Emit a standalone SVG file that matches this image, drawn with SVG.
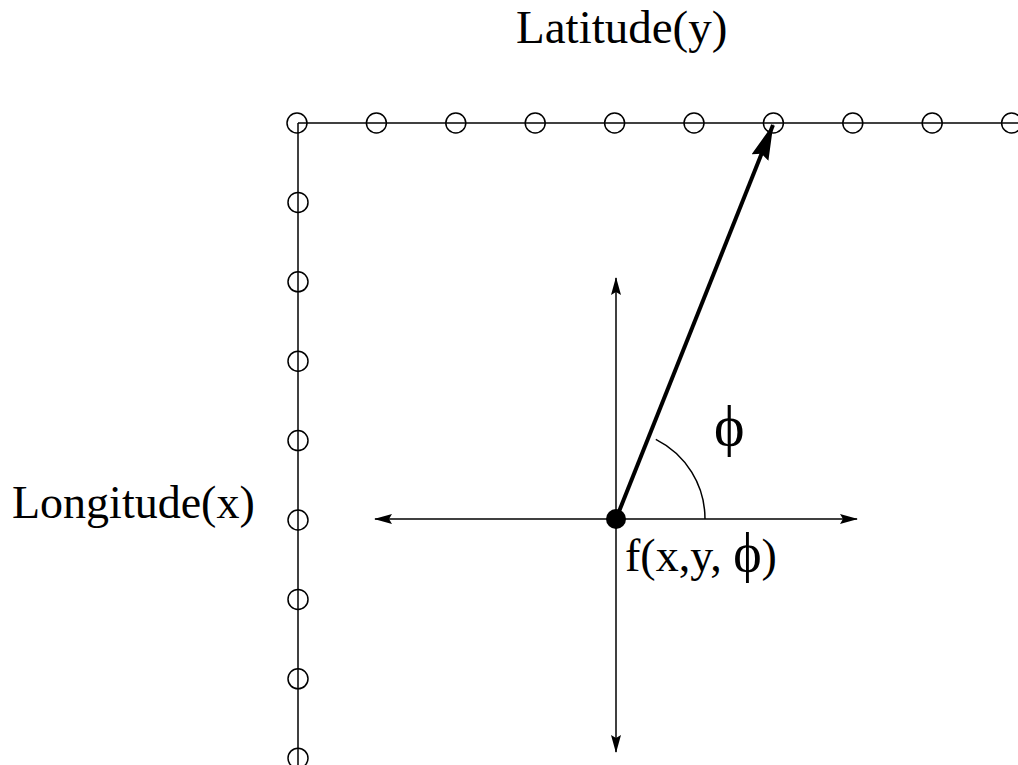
<svg xmlns="http://www.w3.org/2000/svg" width="1018" height="765" viewBox="0 0 1018 765">
<style>
.lbl{font-family:"Liberation Serif","Times New Roman",serif;fill:#000}
.ln{stroke:#000;stroke-width:1.5;fill:none}
.pt{stroke:#000;stroke-width:1.5;fill:none}
</style>
<defs>
<marker id="ah" markerWidth="18" markerHeight="10" refX="17" refY="5" orient="auto" markerUnits="userSpaceOnUse">
<path d="M0,0 L18,5 L0,10 L3,5 Z" fill="#000"/>
</marker>
<marker id="ahb" markerWidth="36" markerHeight="18" refX="35" refY="9" orient="auto" markerUnits="userSpaceOnUse">
<path d="M0,0 L36,9 L0,18 L4,9 Z" fill="#000"/>
</marker>
</defs>
<rect width="1018" height="765" fill="#fff"/>
<g id="grid">
<line class="ln" x1="298" y1="123" x2="1018" y2="123"/>
<line class="ln" x1="298" y1="123" x2="298" y2="765"/>
<g id="lat-points">
<circle class="pt" cx="297" cy="123" r="10"/>
<circle class="pt" cx="376.4" cy="123" r="10"/>
<circle class="pt" cx="455.8" cy="123" r="10"/>
<circle class="pt" cx="535.2" cy="123" r="10"/>
<circle class="pt" cx="614.6" cy="123" r="10"/>
<circle class="pt" cx="694" cy="123" r="10"/>
<circle class="pt" cx="773.4" cy="123" r="10"/>
<circle class="pt" cx="852.8" cy="123" r="10"/>
<circle class="pt" cx="932.2" cy="123" r="10"/>
<circle class="pt" cx="1011.6" cy="123" r="10"/>
</g>
<g id="lon-points">
<circle class="pt" cx="298" cy="202.4" r="10"/>
<circle class="pt" cx="298" cy="281.8" r="10"/>
<circle class="pt" cx="298" cy="361.2" r="10"/>
<circle class="pt" cx="298" cy="440.6" r="10"/>
<circle class="pt" cx="298" cy="520" r="10"/>
<circle class="pt" cx="298" cy="599.4" r="10"/>
<circle class="pt" cx="298" cy="678.8" r="10"/>
<circle class="pt" cx="298" cy="758.2" r="10"/>
</g>
</g>
<g id="connectors">
<line class="ln" x1="616" y1="519" x2="857" y2="519" marker-end="url(#ah)"/>
<line class="ln" x1="616" y1="519" x2="375" y2="519" marker-end="url(#ah)"/>
<line class="ln" x1="616" y1="519" x2="616" y2="278" marker-end="url(#ah)"/>
<line class="ln" x1="616" y1="519" x2="616" y2="752" marker-end="url(#ah)"/>
<line x1="616" y1="519" x2="773" y2="125" stroke="#000" stroke-width="4" marker-end="url(#ahb)"/>
<path class="ln" d="M705,519 A89,89 0 0 0 655.8,439.4"/>
</g>
<g id="center">
<circle cx="616" cy="519" r="10" fill="#000"/>
</g>
<g id="labels">
<text class="lbl" x="516" y="43" font-size="47">Latitude(y)</text>
<text class="lbl" x="12" y="518" font-size="46">Longitude(x)</text>
<text class="lbl" x="714" y="445" font-size="58">ϕ</text>
<text class="lbl" x="625" y="571" font-size="46">f(x,y, <tspan font-size="54">ϕ</tspan>)</text>
</g>
</svg>
